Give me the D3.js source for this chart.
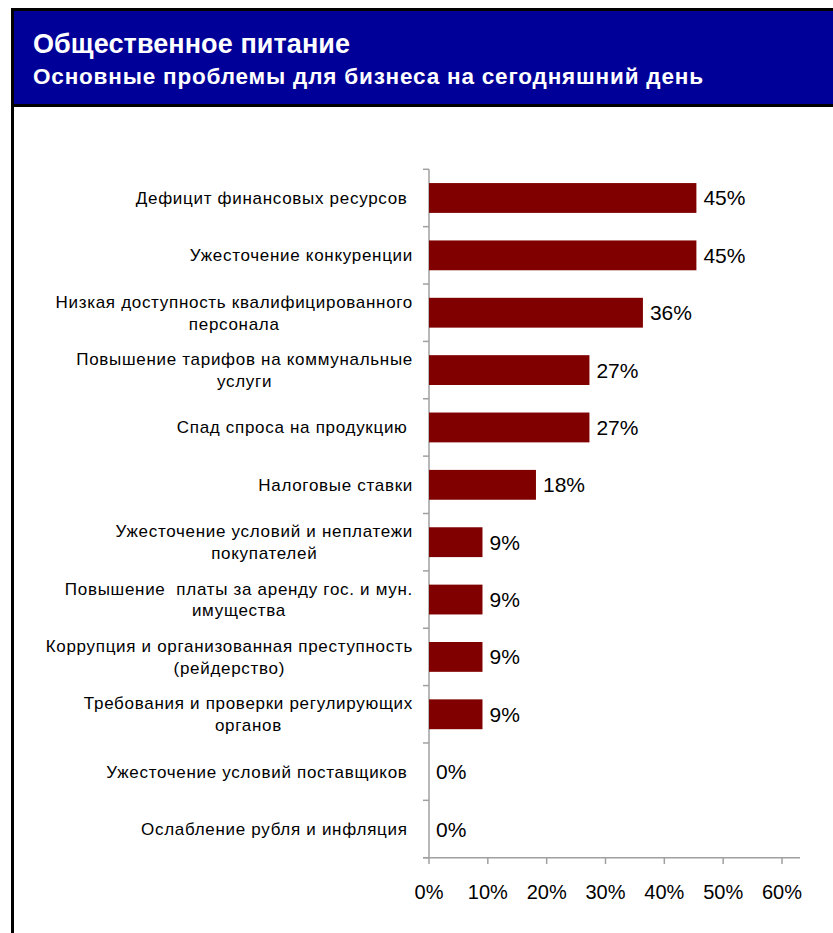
<!DOCTYPE html>
<html><head><meta charset="utf-8">
<script src="https://cdn.jsdelivr.net/npm/d3@7"></script>
<style>body{margin:0;background:#fff}svg text{font-family:"Liberation Sans",Arial,sans-serif}</style>
</head><body>
<svg id="c" width="833" height="933"></svg>
<script>
const title = "Общественное питание";
const subtitle = "Основные проблемы для бизнеса на сегодняшний день";
const categories = [
  ["Дефицит финансовых ресурсов "],
  ["Ужесточение конкуренции"],
  ["Низкая доступность квалифицированного", "персонала"],
  ["Повышение тарифов на коммунальные", "услуги"],
  ["Спад спроса на продукцию "],
  ["Налоговые ставки"],
  ["Ужесточение условий и неплатежи", "покупателей"],
  ["Повышение  платы за аренду гос. и мун.", "имущества"],
  ["Коррупция и организованная преступность", "(рейдерство)"],
  ["Требования и проверки регулирующих", "органов"],
  ["Ужесточение условий поставщиков "],
  ["Ослабление рубля и инфляция "]
];
const values = [45.45, 45.45, 36.36, 27.27, 27.27, 18.18, 9.09, 9.09, 9.09, 9.09, 0, 0];
const valueLabels = ["45%","45%","36%","27%","27%","18%","9%","9%","9%","9%","0%","0%"];
const xTicks = [0, 10, 20, 30, 40, 50, 60];

const svg = d3.select("#c");
// header
svg.append("rect").attr("x",12.5).attr("y",9.5).attr("width",840).attr("height",940)
  .attr("fill","#fff").attr("stroke","#000").attr("stroke-width",3);
svg.append("rect").attr("x",14).attr("y",11).attr("width",830).attr("height",93).attr("fill","#000099");
svg.append("line").attr("x1",12).attr("x2",833).attr("y1",105.5).attr("y2",105.5)
  .attr("stroke","#000").attr("stroke-width",3);
svg.append("text").attr("x",33).attr("y",53).attr("fill","#fff").attr("font-size",27)
  .attr("font-weight","bold").attr("textLength",317).attr("lengthAdjust","spacing").text(title);
svg.append("text").attr("x",33).attr("y",84).attr("fill","#fff").attr("font-size",22.5)
  .attr("font-weight","bold").attr("textLength",670).attr("lengthAdjust","spacing").text(subtitle);

const x = d3.scaleLinear().domain([0,60]).range([429,782]);
const idx = categories.map((d,i)=>i);
const y = d3.scaleBand().domain(idx).range([169.3,857.7]).paddingInner(0.48).paddingOuter(0.24);
const axisColor = "#a0a0a0";
const g = svg.append("g");

// y axis line + ticks at category boundaries
g.append("line").attr("x1",x(0)).attr("x2",x(0)).attr("y1",169.3).attr("y2",857.7)
  .attr("stroke",axisColor).attr("stroke-width",1.5);
const step = y.step();
d3.range(categories.length+1).forEach(i=>{
  const yy = 169.3 + i*step;
  g.append("line").attr("x1",x(0)-6).attr("x2",x(0)).attr("y1",yy).attr("y2",yy)
    .attr("stroke",axisColor).attr("stroke-width",1.5);
});
// x axis
g.append("line").attr("x1",x(0)-6).attr("x2",800).attr("y1",857.7).attr("y2",857.7)
  .attr("stroke",axisColor).attr("stroke-width",1.5);
g.selectAll(".xt").data(xTicks).enter().append("line")
  .attr("x1",d=>x(d)).attr("x2",d=>x(d)).attr("y1",857.7).attr("y2",864)
  .attr("stroke",axisColor).attr("stroke-width",1.5);
g.selectAll(".xl").data(xTicks).enter().append("text")
  .attr("x",d=>x(d)).attr("y",899).attr("text-anchor","middle").attr("font-size",20)
  .attr("fill","#000").text(d=>d+"%");

// bars
g.selectAll(".bar").data(values).enter().append("rect")
  .attr("x",x(0)).attr("y",(d,i)=>y(i)).attr("width",d=>x(d)-x(0)).attr("height",y.bandwidth())
  .attr("fill","#800000");
g.selectAll(".vl").data(values).enter().append("text")
  .attr("x",d=>x(d)+7).attr("y",(d,i)=>y(i)+y.bandwidth()/2+7.5).attr("font-size",21)
  .attr("fill","#000").text((d,i)=>valueLabels[i]);

// category labels
const fs = 17, ls = 0.7, lh = 21.7, right = 413;
categories.forEach((lines,i)=>{
  const c = y(i)+y.bandwidth()/2;
  const t = g.append("text").attr("font-size",fs).attr("letter-spacing",ls).attr("fill","#000").style("white-space","pre");
  const tmp = lines.map(l=>{
    const s = g.append("text").attr("font-size",fs).attr("letter-spacing",ls).style("white-space","pre").text(l);
    const w = s.node().getComputedTextLength(); s.remove(); return w;});
  const maxW = d3.max(tmp);
  const cx = right - maxW/2;
  const y0 = c + 6 - (lines.length-1)*lh/2;
  lines.forEach((l,j)=>{
    t.append("tspan").attr("x",cx).attr("y",y0+j*lh).attr("text-anchor","middle").text(l);
  });
});
</script>
</body></html>
